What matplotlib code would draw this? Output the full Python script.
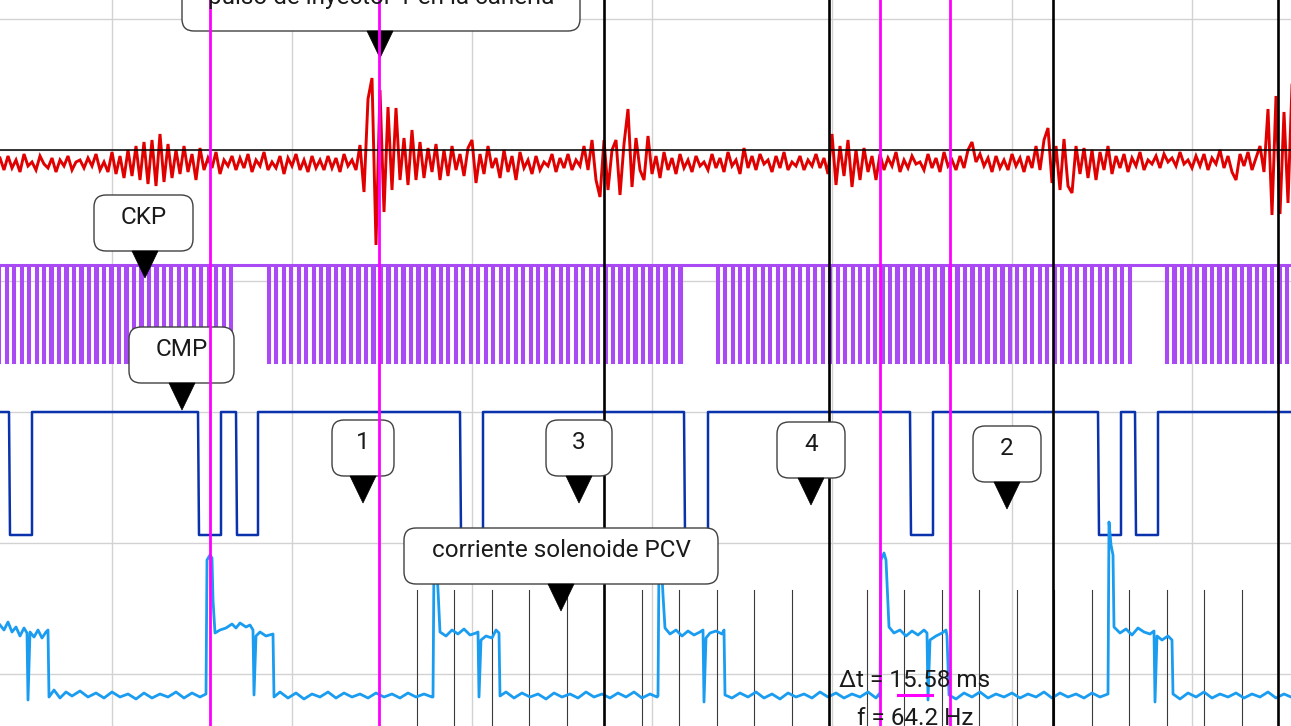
import numpy as np
import matplotlib
matplotlib.use("Agg")
import matplotlib.pyplot as plt
from matplotlib.patches import FancyBboxPatch, Polygon

# ---------------- data (x in scope samples, 4.5 samples per ms; y in counts) ----------------
grid_x = [112, 292, 472, 652, 832, 1012, 1192]
grid_y = [52, 183, 314, 445, 576, 707]

# knock / vibration sensor (deviation below reference, counts, one value every 4 samples)
knock_ref = 576
knock_step = 4
knock_dev = [
    8, 20, 6, 18, 10, 22, 4, 16, 12, 20, 6, 14, 18, 8, 22, 10, 16, 6, 20, 12,
    10, 18, 8, 16, 4, 20, 12, 22, 2, 24, 6, 28, 0, 26, -4, 30, -8, 34, -10, 36,
    -16, 32, -6, 28, 0, 24, -4, 22, 4, 30, -2, 20, 8, 18, 2, 24, 10, 16, 6, 20,
    8, 18, 4, 22, 10, 16, 2, 20, 12, 18, 6, 24, 8, 16, 4, 20, 10, 22, 6, 18,
    10, 20, 6, 18, 8, 22, 4, 16, 10, 20, -5, 42, -51, -72, 95, -60, 62, -43, 40, -42,
    30, -12, 35, -20, 30, -8, 28, -2, 22, -6, 30, 0, 26, -4, 20, 4, 26, -2, -10, 33,
    4, 24, -4, 18, 8, 28, 0, 22, 6, 30, 2, 18, 10, 24, 6, 20, 12, 16, 4, 22,
    8, 18, 4, 20, 10, 16, -4, 20, -10, 30, 47, -10, 40, 0, -10, 45, -6, -41, 37, -12,
    20, 30, -14, 24, 6, 28, 2, 20, 8, 24, 4, 18, 10, 22, 6, 16, 12, 20, 4, 18,
    8, 22, 2, 16, 10, 24, -2, 18, 6, 20, 4, 14, 10, 22, 6, 18, 2, 20, 12, 16,
    6, 20, 10, 16, 4, 18, 8, 24, -16, 35, -4, 26, -10, 37, 0, 30, -2, 22, 6, 30,
    4, 20, 8, 16, 2, 22, 10, 18, 6, 14, 12, 20, 4, 18, 8, 22, 2, 16, 10, 20,
    6, 18, 0, -8, 12, 4, 16, 8, 22, 6, 18, 10, 20, 4, 16, 8, 22, 6, 18, -4,
    20, -10, -22, 33, -4, 40, -11, 36, 43, -4, 24, -2, 28, 0, 30, 2, 20, -4, 24, 6,
    18, 4, 22, 8, 16, 2, 20, 10, 14, 6, 18, 4, 12, 8, 16, 2, 14, 10, 18, 6,
    16, 4, 20, 8, 14, 0, 18, 6, 22, 30, 4, 16, 2, 20, 8, -4, 22, -41, 65, -54,
    64, -38, 53, -65,
]

# CKP crank sensor
ckp_high, ckp_low = 461, 364
ckp_rev_start = [-181.6, 267.6, 716.8, 1166.0]
ckp_teeth = 56
ckp_pitch = 7.487
ckp_low_width = 1.2

# CMP cam sensor
cmp_high, cmp_low = 314, 191
cmp_low_windows = [(9, 32), (198, 221), (236, 258), (460, 483),
                   (684, 708), (910, 933), (1098, 1121), (1135, 1158)]

# PCV solenoid current (counts above zero)
pcv_zero = 31
pcv_t = [0, 4, 8, 12, 16, 20, 24, 27, 28, 30, 34, 38, 42, 46, 48, 49, 54, 60, 66, 72,
         80, 88, 96, 104, 112, 120, 128, 136, 144, 152, 160, 168, 176, 184, 192, 200, 206,
         207, 210, 212, 213, 215, 220, 226, 232, 236, 240, 246, 250, 253, 254, 256, 260, 266, 273, 274,
         280, 288, 296, 304, 312, 320, 328, 336, 344, 352, 360, 368, 376, 384, 392, 400, 408, 416, 424, 432,
         433, 434, 436, 438, 440, 446, 452, 458, 464, 470, 476, 478, 479, 481, 486, 492, 496, 499, 500,
         506, 514, 522, 530, 538, 546, 554, 562, 570, 578, 586, 594, 602, 610, 618, 626, 634, 642, 650, 657,
         658, 659, 661, 663, 665, 670, 676, 682, 688, 694, 700, 703, 704, 706, 710, 716, 722, 724, 725,
         732, 740, 748, 756, 764, 772, 780, 788, 796, 804, 812, 820, 828, 836, 844, 852, 860, 868, 876, 879,
         880, 881, 884, 886, 889, 894, 900, 906, 912, 918, 924, 927, 928, 930, 936, 942, 946, 947, 949,
         956, 964, 972, 980, 988, 996, 1004, 1012, 1020, 1028, 1036, 1044, 1052, 1060, 1068, 1076, 1084, 1092, 1100, 1108,
         1109, 1111, 1113, 1114, 1120, 1126, 1132, 1138, 1144, 1150, 1154, 1155, 1157, 1162, 1168, 1172, 1173,
         1180, 1188, 1196, 1204, 1212, 1220, 1228, 1236, 1244, 1252, 1260, 1268, 1276, 1284, 1291]
pcv_i = [70, 65, 73, 63, 68, 59, 67, 62, -5, 63, 58, 65, 57, 63, 65, -2, 5, -3, 3, -1,
         4, -2, 2, -3, 3, -2, 1, -4, 2, -3, 1, -2, 3, -3, 2, -2, 1,
         135, 140, 137, 95, 62, 65, 67, 71, 67, 72, 68, 70, 65, 0, 59, 63, 59, 61, -2,
         3, -3, 2, -4, 1, -2, 3, -3, 2, -2, 1, -3, 2, -2, 1, -3, 2, -2, 1, -2,
         -2, 135, 140, 105, 63, 59, 65, 61, 66, 60, 62, 63, -2, 55, 59, 57, 65, 62, -1,
         3, -3, 2, -2, 1, -4, 2, -2, 1, -3, 3, -2, 1, -3, 2, -2, 3, -3, 1, -2,
         -1, 135, 140, 100, 67, 61, 65, 59, 64, 60, 63, 65, -7, 57, 62, 64, 61, 65, 0,
         -3, 2, -2, 3, -3, 1, -4, 2, -2, 1, -3, 3, -2, 2, -3, 1, -2, 3, -3, 1,
         -2, 135, 142, 135, 68, 62, 65, 59, 64, 60, 65, 62, -5, 55, 59, 62, 65, 59, 0,
         -4, 2, -2, 3, -3, 1, -2, 2, -3, 1, -2, 3, -3, 2, -2, 1, -3, 2, -2, 1,
         173, 150, 140, 68, 62, 66, 60, 67, 63, 61, 64, -7, 59, 55, 59, 55, 1,
         -4, 2, -2, 3, -3, 1, -2, 2, -3, 1, -2, 3, -3, 1, -2]

# markers
tdc_marks = [604, 829, 1053, 1278]
ruler_first, ruler_step, ruler_count = 416.5, 37.5, 23
cursors = [210, 379, 880, 950]

callout_texts = ["pulso de inyector 1 en la cañería", "CKP", "CMP", "1", "3", "4", "2",
                 "corriente solenoide PCV"]
measure_texts = ["Δt = 15.58 ms", "f = 64.2 Hz"]

# ---------------- drawing ----------------
W, H = 1291, 726
fig = plt.figure(figsize=(W / 100, H / 100), dpi=100)
ax = fig.add_axes([0, 0, 1, 1])
ax.set_xlim(0, W)
ax.set_ylim(0, H)
ax.set_xticks(grid_x)
ax.set_yticks(grid_y)
ax.grid(True, color="#d2d2d2", lw=1.0, zorder=0)
ax.set_axisbelow(True)
ax.tick_params(length=0, labelbottom=False, labelleft=False)
for s in ax.spines.values():
    s.set_visible(False)

FONT = ["Roboto", "DejaVu Sans"]

# ruler lines (crank angle subdivisions)
for j in range(ruler_count):
    x = ruler_first + j * ruler_step
    ax.plot([x, x], [0, 136], color="#3a3a3a", lw=0.8, zorder=1)

# knock trace
kx = np.arange(len(knock_dev)) * knock_step
ky = knock_ref - np.array(knock_dev, dtype=float)
ax.plot(kx, ky, color="#e00000", lw=2.1, zorder=3, solid_joinstyle="miter")
ax.axhline(knock_ref, color="black", lw=1.1, zorder=4)

# CKP
cx, cy = [0.0], [ckp_high]
for s in ckp_rev_start:
    for k in range(ckp_teeth):
        a = s + k * ckp_pitch
        b = a + ckp_low_width
        cx += [a, a, b, b]
        cy += [ckp_high, ckp_low, ckp_low, ckp_high]
cx.append(W)
cy.append(ckp_high)
ax.plot(cx, cy, color="#a94af5", lw=2.2, zorder=3, solid_joinstyle="miter")

# CMP
mx, my = [0.0], [cmp_high]
for a, b in cmp_low_windows:
    mx += [a, a + 1.0, b, b]
    my += [cmp_high, cmp_low, cmp_low, cmp_high]
mx.append(W)
my.append(cmp_high)
ax.plot(mx, my, color="#0a32ad", lw=1.8, zorder=3)

# PCV current
ax.plot(pcv_t, pcv_zero + np.array(pcv_i, dtype=float), color="#1a9cf0", lw=2.0, zorder=3)

# TDC marks
for x in tdc_marks:
    ax.axvline(x, color="black", lw=1.9, zorder=4)

# callouts: (x0, x1, top_px, tip_x) in screen pixels from the top
callout_geo = [(182, 580, -25, 380), (94, 193, 195, 145), (129, 234, 327, 182),
               (332, 394, 420, 363), (546, 612, 420, 579), (777, 845, 422, 811),
               (973, 1041, 426, 1007), (404, 718, 528, 561)]
BOX_H = 56
for txt, (x0, x1, top, tip) in zip(callout_texts, callout_geo):
    y_top = H - top
    y_bot = y_top - BOX_H
    box = FancyBboxPatch((x0, y_bot), x1 - x0, BOX_H,
                         boxstyle="round,pad=0,rounding_size=12",
                         fc="white", ec="#404040", lw=1.0, zorder=6)
    ax.add_patch(box)
    tri = Polygon([[tip - 13, y_bot], [tip + 13, y_bot], [tip, y_bot - 27]],
                  closed=True, fc="black", ec="black", lw=0.5, zorder=6)
    ax.add_patch(tri)
    ax.text((x0 + x1) / 2, y_top - 29, txt, ha="center", va="baseline",
            fontsize=17.5, family=FONT, color="#1a1a1a", zorder=8)

# cursors
for x in cursors:
    ax.axvline(x, color="#ff00ff", lw=2.0, zorder=7)

# measurement
ax.plot([898, 932], [31, 31], color="#ff00ff", lw=2.2, zorder=8)
ax.text(915, 39, measure_texts[0], ha="center", va="baseline", fontsize=17.5,
        family=FONT, color="#1a1a1a", zorder=9)
ax.text(915, 1, measure_texts[1], ha="center", va="baseline", fontsize=17.5,
        family=FONT, color="#1a1a1a", zorder=9)

fig.savefig("out.png", dpi=100)
